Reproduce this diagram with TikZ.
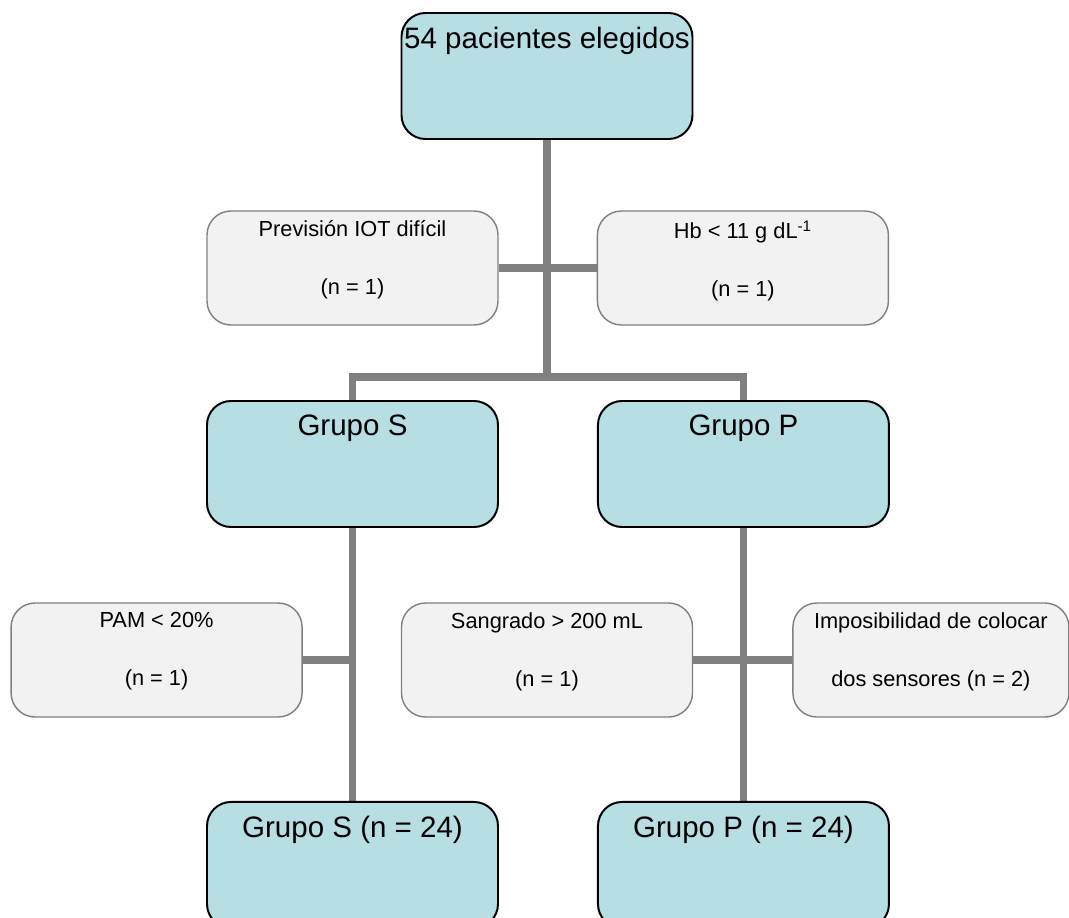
\documentclass[tikz,border=0pt]{standalone}
\usepackage{fontspec}
\setmainfont{Liberation Sans}
\usetikzlibrary{positioning,backgrounds}
\definecolor{boxblue}{RGB}{183,222,226}
\definecolor{boxgray}{RGB}{242,242,242}
\definecolor{linegray}{RGB}{128,128,128}
\tikzstyle{ln} = [draw, linegray, line width=5pt]
\tikzset{
 grp/.style
  = {rectangle, draw=black, fill=boxblue, rounded corners=0.6cm, line width=1.4pt,
     minimum width=7.275cm, minimum height=3.15cm, inner sep=0pt},
 ex/.style
  = {rectangle, draw=linegray, fill=boxgray, rounded corners=0.6cm, line width=1pt,
     minimum width=7.275cm, minimum height=2.85cm, inner sep=0pt},
 tb/.style
  = {anchor=north, inner sep=0.36cm, font=\fontsize{21}{25}\selectfont},
 ts/.style
  = {anchor=north, inner sep=0.25cm, align=center, font=\fontsize{15.5}{41}\selectfont},
}

\begin{document}
\begin{tikzpicture}[auto]
    \useasboundingbox (0,0) rectangle (26.725,-22.95);

    \node [grp, label={[tb]north:54 pacientes elegidos}] (total) at (13.675,-1.9) {};
    \node [ex, label={[ts]north:{Previsión IOT difícil\\(n = 1)}}] (iot) at (8.8125,-6.7) {};
    \node [ex, right = 2.45cm of iot, label={[ts]north:{Hb < 11 g dL\textsuperscript{-1}\\(n = 1)}}] (hb) {};
    \node [grp, label={[tb]north:Grupo S}] (grupoS) at (8.8125,-11.6) {};
    \node [grp, right = 2.45cm of grupoS, label={[tb]north:Grupo P}] (grupoP) {};
    \node [ex, label={[ts]north:{Sangrado > 200 mL\\(n = 1)}}] (sang) at (13.675,-16.5) {};
    \node [ex, left = 2.45cm of sang, label={[ts]north:{PAM < 20\%\\(n = 1)}}] (pam) {};
    \node [ex, right = 2.475cm of sang, minimum width=6.9cm,
           label={[ts]north:{Imposibilidad de colocar\\dos sensores (n = 2)}}] (impos) {};
    \node [grp, below = 6.825cm of grupoS, label={[tb]north:Grupo S (n = 24)}] (grupoSn) {};
    \node [grp, below = 6.825cm of grupoP, label={[tb]north:Grupo P (n = 24)}] (grupoPn) {};

    \coordinate (split) at (13.675,-9.425);

    \begin{scope}[on background layer]
    \path [ln] (total) -- (split);
    \path [ln] (grupoS) |- (split) -| (grupoP);
    \path [ln] (iot) -- (hb);
    \path [ln] (grupoS) -- (grupoSn);
    \path [ln] (pam) -- (pam -| grupoS);
    \path [ln] (grupoP) -- (grupoPn);
    \path [ln] (sang) -- (impos);
    \end{scope}
\end{tikzpicture}
\end{document}
